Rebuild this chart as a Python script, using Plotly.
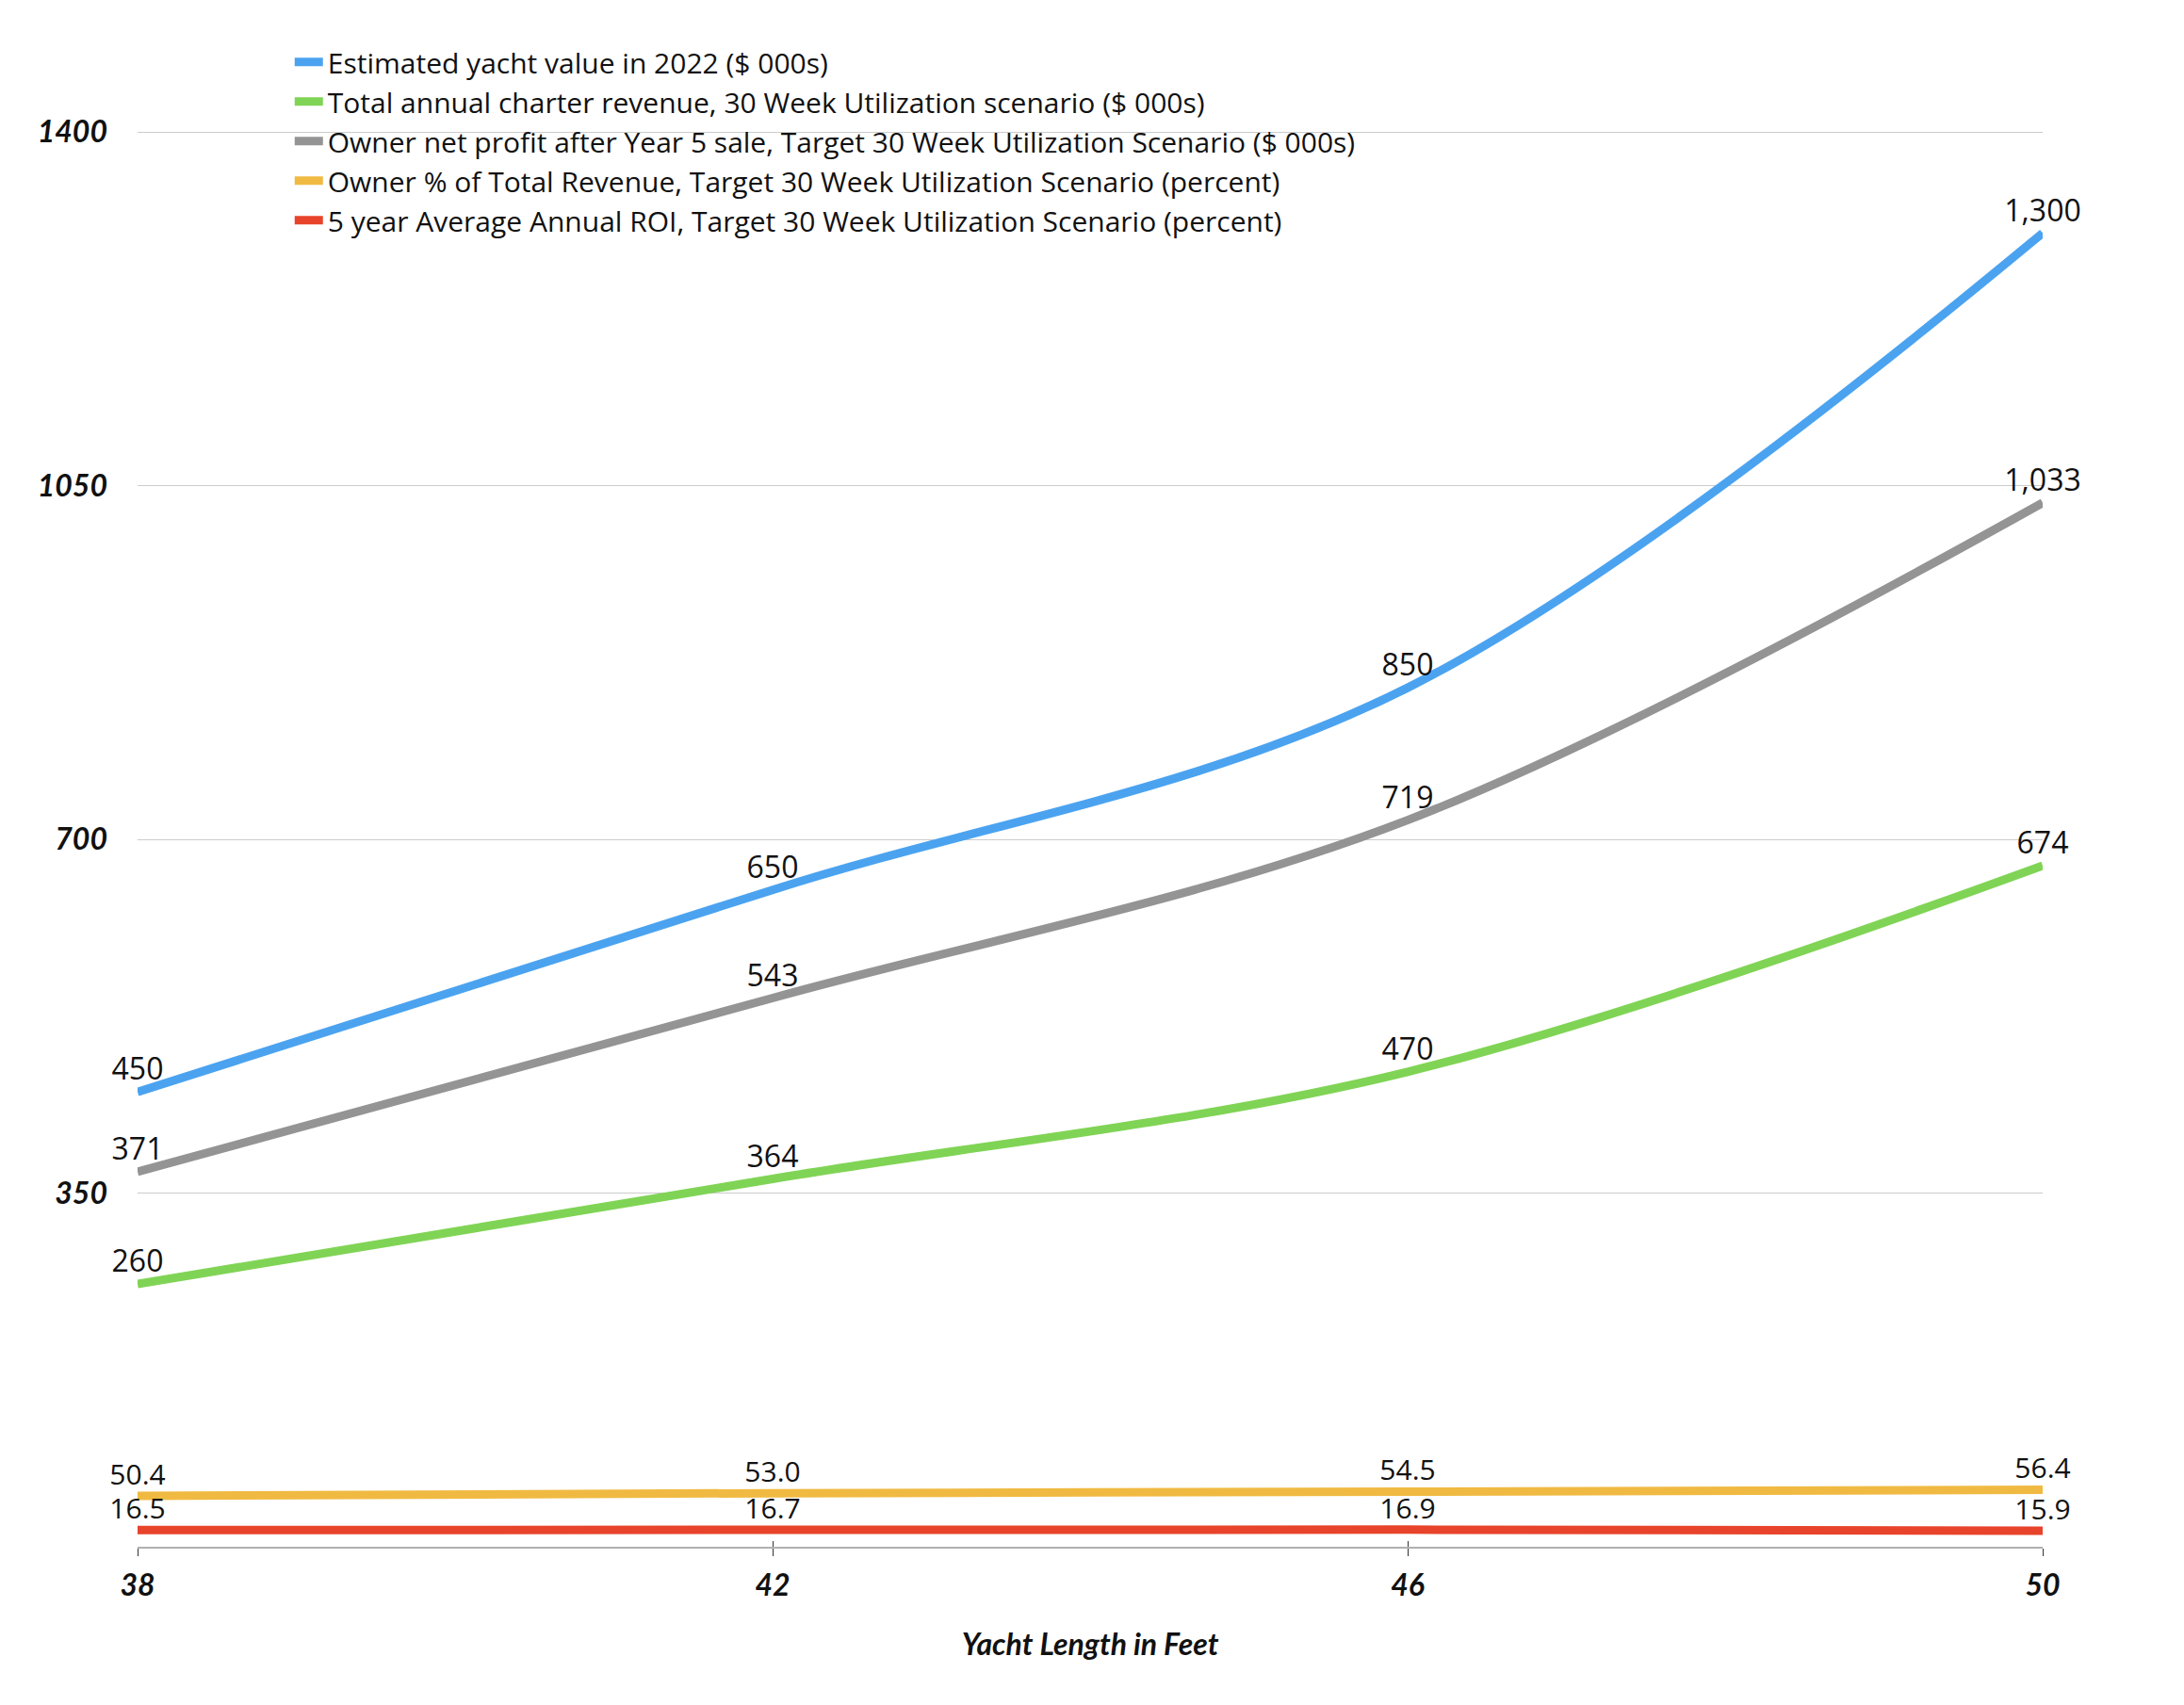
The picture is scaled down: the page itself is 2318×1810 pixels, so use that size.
import plotly.graph_objects as go

lengths = [38, 42, 46, 50]
yacht_value = [450, 650, 850, 1300]
charter_revenue = [260, 364, 470, 674]
owner_profit = [371, 543, 719, 1033]
owner_pct = [50.4, 53.0, 54.5, 56.4]
roi_pct = [16.5, 16.7, 16.9, 15.9]

names = [
    "Estimated yacht value in 2022 ($ 000s)",
    "Total annual charter revenue, 30 Week Utilization scenario ($ 000s)",
    "Owner net profit after Year 5 sale, Target 30 Week Utilization Scenario ($ 000s)",
    "Owner % of Total Revenue, Target 30 Week Utilization Scenario (percent)",
    "5 year Average Annual ROI, Target 30 Week Utilization Scenario (percent)",
]
colors = ["#4BA3F0", "#80D455", "#949494", "#F0BA42", "#E8432B"]
series = [yacht_value, charter_revenue, owner_profit, owner_pct, roi_pct]
fmts = ["%{y:,.0f}", "%{y:,.0f}", "%{y:,.0f}", "%{y:.1f}", "%{y:.1f}"]
label_sizes = [32, 32, 32, 30, 30]

FONT = "Open Sans"
TICKFONT = "Lato"
fig = go.Figure()
for nm, col, vals, fm, ls in zip(names, colors, series, fmts, label_sizes):
    fig.add_trace(go.Scatter(
        x=lengths, y=vals, name=nm, mode="lines+markers+text",
        line=dict(color=col, width=9, shape="spline", smoothing=1.0),
        marker=dict(size=6, color="rgba(0,0,0,0)"),
        texttemplate=fm, textposition="top center",
        textfont=dict(family=FONT, size=ls, color="#111"),
        cliponaxis=False, hoverinfo="skip",
    ))

fig.update_layout(
    width=2318, height=1810,
    margin=dict(l=138, r=158, t=131, b=176),
    paper_bgcolor="white", plot_bgcolor="white",
    font=dict(family=FONT, size=30, color="#111"),
    legend=dict(
        x=0.08, y=1.066, xanchor="left", yanchor="top",
        font=dict(family=FONT, size=30, color="#111"),
        bgcolor="rgba(0,0,0,0)", itemwidth=30, tracegroupgap=0,
    ),
    xaxis=dict(
        range=[38, 50], tickvals=lengths, showgrid=False, zeroline=False,
        showline=True, linecolor="#b0b0b0", linewidth=2,
        ticks="outside", ticklen=8, tickcolor="#333", tickwidth=1,
        ticklabelstandoff=4,
        tickfont=dict(family=TICKFONT, size=32, weight="bold", style="italic", color="#111"),
        title=dict(text="Yacht Length in Feet", standoff=34,
                   font=dict(family=TICKFONT, size=32, weight="bold", style="italic", color="#111")),
    ),
    xaxis2=dict(
        range=[38, 50], tickvals=lengths, overlaying="x", matches="x",
        showgrid=False, zeroline=False, showline=False, showticklabels=False,
        ticks="inside", ticklen=6, tickcolor="#333", tickwidth=1, side="bottom",
    ),
    yaxis=dict(
        range=[0, 1401], tickvals=[350, 700, 1050, 1400], showgrid=True,
        gridcolor="#cccccc", gridwidth=1, zeroline=False, showline=False,
        ticks="", ticklabelstandoff=31,
        tickfont=dict(family=TICKFONT, size=32, weight="bold", style="italic", color="#111"),
    ),
    showlegend=True,
)
fig.add_trace(go.Scatter(x=[38], y=[0], xaxis="x2", mode="none",
                         showlegend=False, hoverinfo="skip"))

fig.write_html("out.html")
